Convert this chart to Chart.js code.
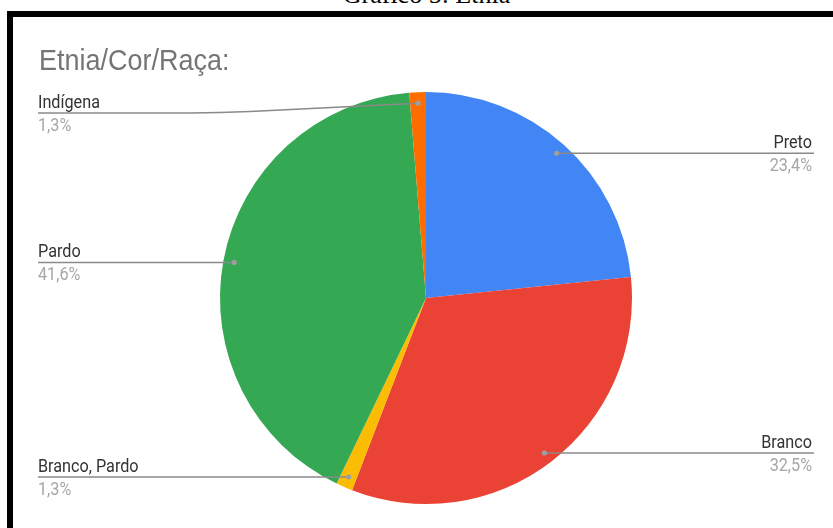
<!DOCTYPE html>
<html>
<head>
<meta charset="utf-8">
<script src="https://cdn.jsdelivr.net/npm/chart.js@4"></script>
<style>
  html, body { margin: 0; padding: 0; background: #fff; overflow: hidden; }
  #caption {
    position: absolute; left: 0; width: 853px; top: -18px;
    font: 26px/26px "Liberation Serif", "Times New Roman", serif;
    text-align: center; color: #000;
  }
  #frame {
    position: absolute; left: 7px; top: 11px; width: 860px; height: 560px;
    border-left: 6px solid #000; border-top: 6px solid #000;
  }
  #chart { position: absolute; left: 0; top: 0; }
</style>
</head>
<body>
<div id="caption">Gráfico 5: Etnia</div>
<div id="frame"></div>
<canvas id="chart" width="833" height="528"></canvas>
<script>
const categories = ["Preto", "Branco", "Branco, Pardo", "Pardo", "Indígena"];
const percentages = [23.4, 32.5, 1.3, 41.6, 1.3];
const sliceColors = ["#4285F4", "#EA4335", "#FBBC04", "#34A853", "#FF6D01"];
const chartTitle = "Etnia/Cor/Raça:";

const fmt = (v) => v.toFixed(1).replace(".", ",") + "%";

// squeeze text a bit horizontally, the original rendering is narrow
function squeezedText(ctx, text, x, y, align, sx) {
  ctx.save();
  ctx.translate(x, y);
  ctx.scale(sx || 0.9, 1);
  ctx.textAlign = align;
  ctx.fillText(text, 0, 0);
  ctx.restore();
}

const pieLabels = {
  id: "pieLabels",
  afterDatasetsDraw(chart) {
    const ctx = chart.ctx;
    const meta = chart.getDatasetMeta(0);
    const area = chart.chartArea;
    const leftX = 38, rightX = 814;
    const minY = area.top + 21;

    ctx.save();
    ctx.textBaseline = "alphabetic";
    ctx.fillStyle = "#757575";
    ctx.font = "29px 'Liberation Sans', Arial, sans-serif";
    squeezedText(ctx, chartTitle, 39, 70, "left", 0.93);

    meta.data.forEach((arc, i) => {
      const p = arc.getProps(["x", "y", "startAngle", "endAngle", "outerRadius"], true);
      const mid = (p.startAngle + p.endAngle) / 2;
      const rr = p.outerRadius - 11;
      const dx = p.x + Math.cos(mid) * rr;
      const dy = p.y + Math.sin(mid) * rr;
      const right = Math.cos(mid) >= 0;
      const lineY = Math.max(dy, minY);
      const bendX = right ? p.x + p.outerRadius : p.x - p.outerRadius;
      const endX = right ? rightX : leftX;

      ctx.strokeStyle = "#8a8a8a";
      ctx.lineWidth = 1.5;
      ctx.beginPath();
      ctx.moveTo(dx, dy);
      if (Math.abs(lineY - dy) > 0.5) {
        // soft bend where the slanted part meets the horizontal
        const dir = right ? 1 : -1;
        const t = 30 / Math.abs(dx - bendX);
        ctx.lineTo(bendX - dir * 30, lineY - (lineY - dy) * t);
        ctx.quadraticCurveTo(bendX, lineY, bendX + dir * 30, lineY);
      }
      ctx.lineTo(endX, lineY);
      ctx.stroke();

      ctx.fillStyle = "#9e9e9e";
      ctx.beginPath();
      ctx.arc(dx, dy, 2.6, 0, Math.PI * 2);
      ctx.fill();

      const tx = right ? endX - 2 : endX;
      const align = right ? "right" : "left";
      ctx.font = "18px Roboto";
      ctx.fillStyle = "#333333";
      squeezedText(ctx, categories[i], tx, lineY - 5, align);
      ctx.fillStyle = "#a6a6a6";
      squeezedText(ctx, fmt(percentages[i]), tx, lineY + 18, align);
    });
    ctx.restore();
  }
};

new Chart(document.getElementById("chart").getContext("2d"), {
  type: "pie",
  data: {
    labels: categories,
    datasets: [{
      data: percentages,
      backgroundColor: sliceColors,
      borderWidth: 0,
      hoverOffset: 0
    }]
  },
  options: {
    responsive: false,
    animation: false,
    layout: { padding: { left: 38, right: 19, top: 92, bottom: 24 } },
    plugins: {
      legend: { display: false },
      tooltip: { enabled: false }
    }
  },
  plugins: [pieLabels]
});
</script>
</body>
</html>
